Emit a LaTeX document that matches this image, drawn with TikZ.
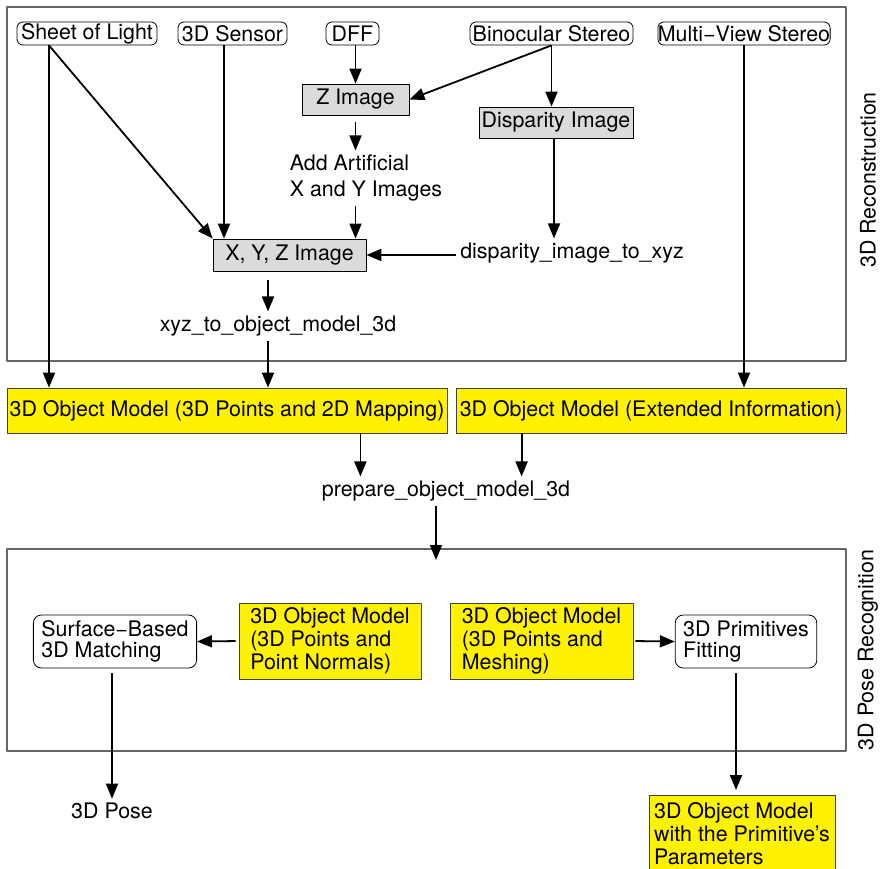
\documentclass[tikz,border=0pt]{standalone}
\usepackage{fontspec}
\setmainfont{TeX Gyre Heros}
\usetikzlibrary{arrows.meta}

\begin{document}
\begin{tikzpicture}[x=0.5pt, y=-0.5pt, font=\fontsize{10.7}{11.5}\selectfont, line join=round, >={Triangle[length=7.5pt,width=6pt]}]
	\tikzset{
		src/.style={draw, rounded corners=3pt, fill=white, inner sep=0pt, minimum height=11.5pt},
		gimg/.style={draw, fill=black!14, inner sep=0pt, minimum height=15.5pt},
		model/.style={draw=black!75, fill=yellow, inner sep=0pt, minimum height=22.5pt},
		blk/.style={draw, rounded corners=4pt, fill=white, inner xsep=4pt, inner ysep=0pt, align=left, minimum height=26.5pt},
		op/.style={inner sep=2pt},
		frm/.style={draw=black!60, line width=0.6pt, inner sep=0pt},
		arr/.style={->, line width=0.9pt}
	}
	\useasboundingbox (0,0) rectangle (881,868);
	% Frames
	\node[frm, minimum width=419.5pt, minimum height=177pt] (recfr) at (426.5,184) {};
	\node[frm, minimum width=419.5pt, minimum height=101pt] (posefr) at (426.5,650) {};
	\node[rotate=90] (reclbl) at (868,180) {3D Reconstruction};
	\node[rotate=90] (poselbl) at (868,650) {3D Pose Recognition};
	% Sources
	\node[src, minimum width=70pt] (sol) at (87,33.5) {Sheet of Light};
	\node[src, minimum width=54.5pt] (sens) at (232.5,33.5) {3D Sensor};
	\node[src, minimum width=26.5pt] (dff) at (352.5,33.5) {DFF};
	\node[src, minimum width=81.5pt] (bino) at (551.5,33.5) {Binocular Stereo};
	\node[src, minimum width=86pt] (mvs) at (744,33.5) {Multi−View Stereo};
	% Images and operators
	\node[gimg, minimum width=53.5pt] (zimg) at (355.5,99.5) {Z Image};
	\node[gimg, minimum width=77pt] (disp) at (556,122.5) {Disparity Image};
	\node[gimg, minimum width=76.5pt, minimum height=16pt] (xyz) at (289.5,255) {X, Y, Z Image};
	\node[op, align=left] (addxy) at (366,178) {Add Artificial\\[1.5pt]X and Y Images};
	\node[op] (dxyz) at (572,253) {disparity\_image\_to\_xyz};
	\node[op] (xom) at (278,326) {xyz\_to\_object\_model\_3d};
	% Object models
	\node[model, minimum width=220pt] (om2d) at (227,410.5) {3D Object Model (3D Points and 2D Mapping)};
	\node[model, minimum width=195pt] (omext) at (651,410.5) {3D Object Model (Extended Information)};
	\node[op] (prep) at (446,491) {prepare\_object\_model\_3d};
	\coordinate (pin) at (436,560);
	% Pose recognition
	\node[blk, minimum width=78pt] (surf) at (115,641.5) {Surface−Based\\[-1pt]3D Matching};
	\node[model, align=left, minimum width=91pt, minimum height=38pt] (ompn) at (330,641) {3D Object Model\\(3D Points and\\Point Normals)};
	\node[model, align=left, minimum width=91.5pt, minimum height=38pt] (ommesh) at (541.5,641) {3D Object Model\\(3D Points and\\Meshing)};
	\node[blk, minimum width=68pt] (prim) at (746,641.5) {3D Primitives\\[-1pt]Fitting};
	\node[op] (pose) at (112,811) {3D Pose};
	\node[model, align=left, minimum width=93pt, minimum height=38pt, anchor=north] (omprim) at (742,795) {3D Object Model\\with the Primitive’s\\Parameters};
	% Connectors
	\draw[arr] ([xshift=-19pt]sol.south) coordinate (sl) -- (sl |- om2d.north);
	\draw[arr] (sl) -- (xyz.north west);
	\draw[arr] ([xshift=-4.25pt]sens.south) coordinate (ss) -- (ss |- xyz.north);
	\draw[arr] (dff.south -| zimg.north) -- (zimg.north);
	\draw[arr] (bino.south) -- (zimg.east);
	\draw[arr] (bino.south) -- (bino.south |- disp.north);
	\draw[arr, shorten <=3.5pt] (zimg.south) -- (addxy.north -| zimg.south);
	\draw[arr] (addxy.south -| zimg.south) -- (zimg.south |- xyz.north);
	\draw[arr] ([xshift=-1pt]disp.south) coordinate (ds) -- (ds |- dxyz.north);
	\draw[arr] (dxyz.west |- xyz.east) -- (xyz.east);
	\draw[arr] ([xshift=-10.75pt,yshift=-4.5pt]xyz.south) coordinate (xs) -- (xs |- xom.north);
	\draw[arr] (xs |- xom.south) -- (xs |- om2d.north);
	\draw[arr] (mvs.south) -- (mvs.south |- omext.north);
	\draw[arr] ([xshift=-43.5pt]om2d.south east) coordinate (m1) -- (m1 |- prep.north);
	\draw[arr] ([xshift=33pt]omext.south west) coordinate (m2) -- (m2 |- prep.north);
	\draw[arr] (prep.south -| pin) -- (pin);
	\draw[arr, shorten <=1.5pt] (ompn.west) -- (surf.east);
	\draw[arr, shorten <=2.5pt] (surf.south -| pose.north) -- (pose.north);
	\draw[arr, shorten <=1pt] (ommesh.east) -- (prim.west);
	\draw[arr, shorten <=2.5pt, shorten >=2.5pt] ([xshift=-3pt]prim.south -| omprim.north) coordinate (ps) -- (ps |- omprim.north);
\end{tikzpicture}
\end{document}
